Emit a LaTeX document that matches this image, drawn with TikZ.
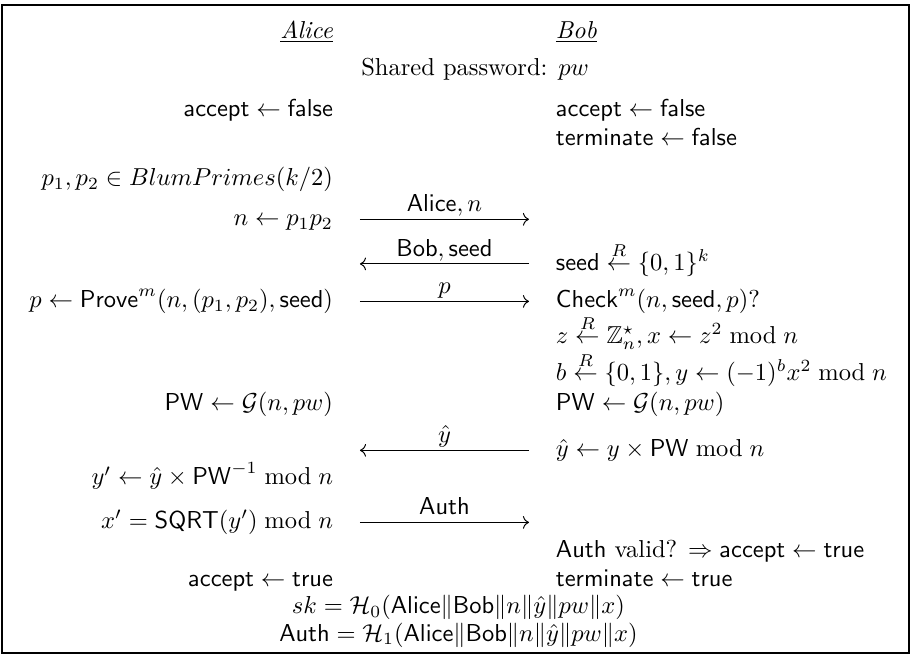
\documentclass[tikz,border=0pt]{standalone}
\usepackage{amssymb}
\usetikzlibrary{calc,arrows.meta}

\begin{document}
\begin{tikzpicture}[cell/.style={inner sep=0pt,minimum height=0pt,text height=0pt,text depth=0pt},
					alice/.style={cell,anchor=base east},
					bob/.style={cell,anchor=base west},
					msg/.style={cell,anchor=base,minimum width=68.6pt},
					across/.style={cell,anchor=base,overlay},
					msgtext/.style={above,inner sep=1pt,text height=6.9pt,text depth=1.9pt},
					sendto/.style={line width=0.4pt,-{Computer Modern Rightarrow}}]

		\matrix[column sep=11pt,inner sep=0pt]
		{
			\node[alice] (a1) {\underline{\textit{Alice}}}; & & \node[bob] (b1) {\underline{\textit{Bob}}}; \\[15.1pt]
			& \node[across,xshift=12.5pt] (pw) {Shared password: $pw$}; & \\[16.7pt]
			\node[alice] (a3) {$\mathsf{accept}\leftarrow\mathsf{false}$}; & & \node[bob] (b3) {$\mathsf{accept}\leftarrow\mathsf{false}$}; \\[11.8pt]
			& & \node[bob] (b4) {$\mathsf{terminate}\leftarrow\mathsf{false}$}; \\[16.7pt]
			\node[alice] (a5) {$p_1,p_2\in BlumPrimes(k/2)$}; & & \\[16.1pt]
			\node[alice] (a6) {$n\leftarrow p_1p_2$}; & \node[msg] (m6) {}; & \\[18.2pt]
			& \node[msg] (m7) {}; & \node[bob] (b7) {$\mathsf{seed}\stackrel{R}{\leftarrow}\{0,1\}^k$}; \\[15.3pt]
			\node[alice] (a8) {$p\leftarrow\mathsf{Prove}^m(n,(p_1,p_2),\mathsf{seed})$}; & \node[msg] (m8) {}; & \node[bob] (b8) {$\mathsf{Check}^m(n,\mathsf{seed},p)?$}; \\[14.5pt]
			& & \node[bob] (b9) {$z\stackrel{R}{\leftarrow}\mathbb{Z}_n^\star,x\leftarrow z^2\bmod n$}; \\[15.3pt]
			& & \node[bob] (b10) {$b\stackrel{R}{\leftarrow}\{0,1\},y\leftarrow(-1)^bx^2\bmod n$}; \\[12.4pt]
			\node[alice] (a11) {$\mathsf{PW}\leftarrow\mathcal{G}(n,pw)$}; & & \node[bob] (b11) {$\mathsf{PW}\leftarrow\mathcal{G}(n,pw)$}; \\[18.6pt]
			& \node[msg] (m12) {}; & \node[bob] (b12) {$\hat{y}\leftarrow y\times\mathsf{PW}\bmod n$}; \\[11.6pt]
			\node[alice] (a13) {$y'\leftarrow\hat{y}\times\mathsf{PW}^{-1}\bmod n$}; & & \\[17.8pt]
			\node[alice] (a14) {$x'=\mathsf{SQRT}(y')\bmod n$}; & \node[msg] (m14) {}; & \\[12pt]
			& & \node[bob] (b15) {$\mathsf{Auth}$ valid? $\Rightarrow\mathsf{accept}\leftarrow\mathsf{true}$}; \\[11.6pt]
			\node[alice] (a16) {$\mathsf{accept}\leftarrow\mathsf{true}$}; & & \node[bob] (b16) {$\mathsf{terminate}\leftarrow\mathsf{true}$}; \\[11.2pt]
			& \node[across,xshift=5.7pt] (sk) {$sk=\mathcal{H}_0(\mathsf{Alice}\|\mathsf{Bob}\|n\|\hat{y}\|pw\|x)$}; & \\[11.2pt]
			& \node[across,xshift=5.7pt] (auth) {$\mathsf{Auth}=\mathcal{H}_1(\mathsf{Alice}\|\mathsf{Bob}\|n\|\hat{y}\|pw\|x)$}; & \\
		};

		\draw[sendto] ([yshift=2.5pt]m6.west) -- node[msgtext] {$\mathsf{Alice},n$} ([yshift=2.5pt]m6.east);
		\draw[sendto] ([yshift=2.5pt]m7.east) -- node[msgtext] {$\mathsf{Bob},\mathsf{seed}$} ([yshift=2.5pt]m7.west);
		\draw[sendto] ([yshift=2.5pt]m8.west) -- node[msgtext] {$p$} ([yshift=2.5pt]m8.east);
		\draw[sendto] ([yshift=2.5pt]m12.east) -- node[msgtext] {$\hat{y}$} ([yshift=2.5pt]m12.west);
		\draw[sendto] ([yshift=2.5pt]m14.west) -- node[msgtext] {$\mathsf{Auth}$} ([yshift=2.5pt]m14.east);

		\draw[line width=0.8pt] ($(m6.west)+(-146.1pt,-174.5pt)$) rectangle ($(m6.west)+(224.1pt,90pt)$);
		\useasboundingbox ($(m6.west)+(-146.9pt,-175.3pt)$) rectangle ($(m6.west)+(225.3pt,92pt)$);

	\end{tikzpicture}
\end{document}
